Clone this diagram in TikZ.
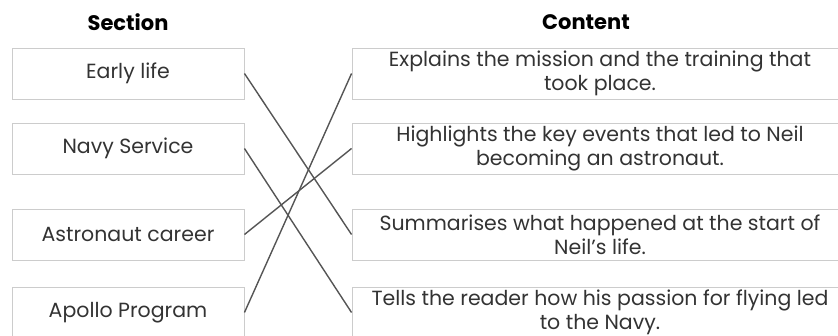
\documentclass[tikz,border=0pt]{standalone}
\usepackage{fontspec}
\setmainfont{Poppins}
\usetikzlibrary{positioning}

\definecolor{inkgray}{HTML}{333333}
\definecolor{linkgray}{HTML}{555555}
\definecolor{boxgray}{HTML}{CCCCCC}

\begin{document}
\begin{tikzpicture}[x=1pt, y=-1pt,
    sect/.style={draw=boxgray, line width=0.9pt, minimum width=232pt, minimum height=51pt,
      inner sep=0pt, text=inkgray, font=\fontsize{20.5}{24}\selectfont},
    cont/.style={draw=boxgray, line width=0.9pt, minimum width=496pt, minimum height=51pt,
      inner sep=0pt, align=center, text=inkgray, font=\fontsize{20.5}{24}\selectfont},
    head/.style={font=\fontsize{21}{24}\selectfont\bfseries, text=black},
    link/.style={draw=linkgray, line width=1.4pt}]
  \clip (0,0) rectangle (838,336);

  % Column headings
  \node[head] (hsect) at (128,22) {Section};
  \node[head] (hcont) at (586,22) {Content};

  % Sections
  \node[sect] (early)  at (128,73.5)  {Early life};
  \node[sect] (navy)   at (128,148.5) {Navy Service};
  \node[sect] (astro)  at (128,234.5) {Astronaut career};
  \node[sect] (apollo) at (128,312.5) {Apollo Program};

  % Contents
  \node[cont] (explains)   at (600,73.5)  {Explains the mission and the training that\\took place.};
  \node[cont] (highlights) at (600,148.5) {Highlights the key events that led to Neil\\becoming an astronaut.};
  \node[cont] (summarises) at (600,234.5) {Summarises what happened at the start of\\Neil’s life.};
  \node[cont] (tells)      at (600,312.5) {Tells the reader how his passion for flying led\\to the Navy.};

  % Matching lines
  \draw[link] (early.east)  -- (summarises.west);
  \draw[link] (navy.east)   -- (tells.west);
  \draw[link] (astro.east)  -- (highlights.west);
  \draw[link] (apollo.east) -- (explains.west);
\end{tikzpicture}
\end{document}
